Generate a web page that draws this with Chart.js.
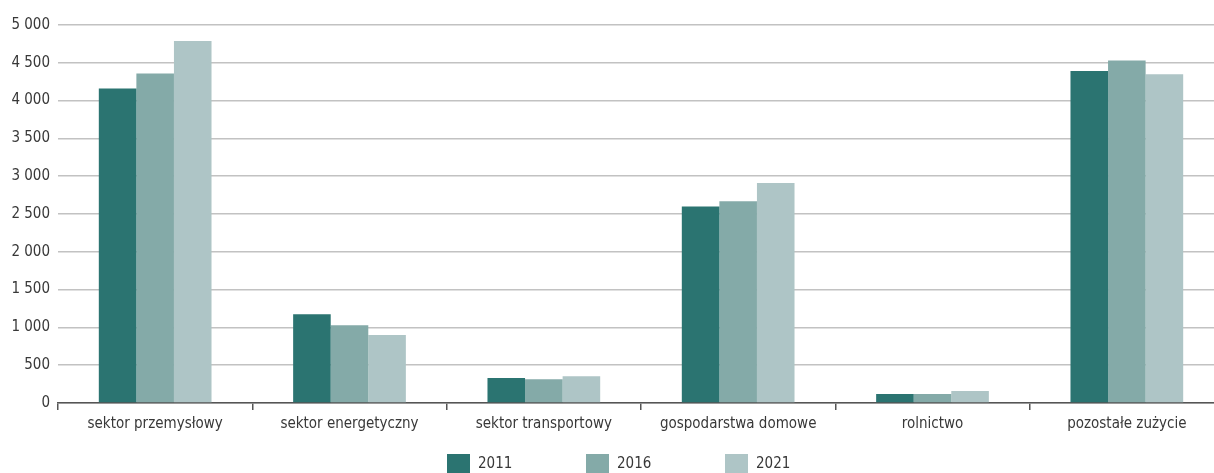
<!DOCTYPE html>
<html lang="pl">
<head>
<meta charset="utf-8">
<title>Zużycie wg sektorów</title>
<script src="https://cdn.jsdelivr.net/npm/chart.js@4/dist/chart.umd.min.js"></script>
<style>
  html, body { margin: 0; padding: 0; overflow: hidden; background: #fff; }
  canvas { display: block; }
</style>
</head>
<body>
<canvas id="canvas" width="1224" height="480"></canvas>
<script>
// values
const categories = ["sektor przemysłowy", "sektor energetyczny", "sektor transportowy",
  "gospodarstwa domowe", "rolnictwo", "pozostałe zużycie"];
const years = ["2011", "2016", "2021"];
const values2011 = [4160, 1175, 330, 2600, 120, 4390];
const values2016 = [4360, 1030, 315, 2670, 118, 4530];
const values2021 = [4790, 900, 355, 2910, 160, 4350];
const yTicks = [0, 500, 1000, 1500, 2000, 2500, 3000, 3500, 4000, 4500, 5000];

const colors = {
  dark: "#2b7471",
  mid: "#84aaa8",
  light: "#aec5c6",
};
const FONT = '"Liberation Sans Narrow", "DejaVu Sans Condensed", "Arial Narrow", sans-serif';
const FONT_SIZE = 15;
const TEXT = "#383838";

function spaced(v) {
  return String(v).replace(/\B(?=(\d{3})+(?!\d))/g, " ");
}

// legend drawn under the axis, items at a fixed step
let bottomLegend = {
  id: "bottomLegend",
  afterDraw(chart) {
    let ctx = chart.ctx;
    let sets = chart.data.datasets;
    let step = 139, box = 23, boxH = 21, gap = 8;
    ctx.save();
    ctx.font = FONT_SIZE + "px " + FONT;
    let lastW = ctx.measureText(sets[sets.length - 1].label).width;
    let total = step * (sets.length - 1) + box + gap + lastW;
    let x = Math.round(chart.width / 2 - total / 2 + 7);
    let top = chart.chartArea.bottom + 51;
    sets.forEach((ds, i) => {
      let bx = x + i * step;
      ctx.fillStyle = ds.backgroundColor;
      ctx.fillRect(bx, top, box, boxH);
      ctx.fillStyle = TEXT;
      ctx.textBaseline = "middle";
      ctx.textAlign = "left";
      ctx.fillText(ds.label, bx + box + gap, top + boxH / 2);
    });
    ctx.restore();
  },
};

let ctx = document.getElementById("canvas").getContext("2d");
let chart = new Chart(ctx, {
  type: "bar",
  data: {
    labels: categories,
    datasets: [
      { label: years[0], data: values2011, backgroundColor: colors.dark },
      { label: years[1], data: values2016, backgroundColor: colors.mid },
      { label: years[2], data: values2021, backgroundColor: colors.light },
    ],
  },
  options: {
    responsive: false,
    animation: false,
    events: [],
    layout: { padding: { top: 25, right: 0, bottom: 42, left: 0 } },
    datasets: {
      bar: { categoryPercentage: 0.58, barPercentage: 1.0 },
    },
    plugins: {
      legend: { display: false },
      tooltip: { enabled: false },
    },
    scales: {
      x: {
        grid: {
          display: true,
          drawOnChartArea: false,
          drawTicks: true,
          tickLength: 7,
          color: "#555555",
          lineWidth: 1.5,
          offset: true,
        },
        border: { display: true, color: "#555555", width: 1.5 },
        ticks: {
          font: { family: FONT, size: FONT_SIZE },
          color: TEXT,
          padding: 5,
          maxRotation: 0,
          autoSkip: false,
        },
      },
      y: {
        min: 0,
        max: 5000,
        afterBuildTicks(scale) {
          scale.ticks = yTicks.map((v) => ({ value: v }));
        },
        afterFit(scale) {
          scale.width = 58;
        },
        grid: { color: "#c2c2c2", lineWidth: 1.5, drawTicks: false },
        border: { display: false },
        ticks: {
          font: { family: FONT, size: FONT_SIZE },
          color: TEXT,
          padding: 8,
          callback: (v) => spaced(v),
        },
      },
    },
  },
  plugins: [bottomLegend],
});
</script>
</body>
</html>
